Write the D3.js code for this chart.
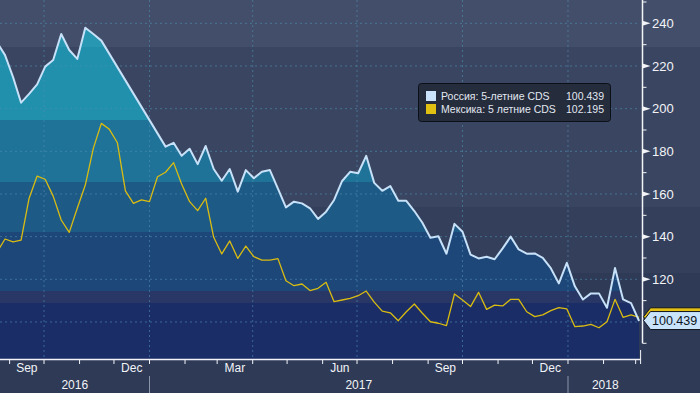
<!DOCTYPE html>
<html>
<head>
<meta charset="utf-8">
<script src="https://cdn.jsdelivr.net/npm/d3@7"></script>
<style>
  html, body { margin: 0; padding: 0; background: #2e3a56; }
  svg { display: block; font-family: "Liberation Sans", Arial, sans-serif; }
</style>
</head>
<body>
<div id="chart"></div>
<script>
// weekly observations, Sunday stamps, Aug 21 2016 .. Mar 4 2018
const weeks = d3.timeWeek.range(new Date(2016, 7, 21), new Date(2018, 2, 5));

// Россия 5y CDS (null = no print, line just joins across)
const russia = [
  231, 225.1, 214.8, 202.8, 206.9, 211.4, 219.7, 222.8, 235.0, 227.5,
  223.3, 237.9, 235.0, 231.9, null, null, null, null, null, null,
  null, 182.2, 184.0, 177.9, 181.2, 174.0, 182.5, 171.7, 166.2, 171.7,
  161.1, 171.2, 167.4, 170.4, 171.2, 162.5, 153.7, 156.4, 155.6, 153.3,
  148.3, 151.7, 157.2, 166.1, 170.4, 169.7, 177.9, 165.2, 161.5, 163.7,
  156.8, 156.8, 152.0, 146.5, 139.5, 140.2, 132.0, 146.0, 142.3, 131.6,
  129.8, 130.6, 129.4, 134.5, 140.0, 134.0, 132.0, 132.1, 130.0, 125.2,
  118.1, 127.7, 116.7, 110.5, 113.4, 113.4, 106.7, 125.3, 110.6, 108.8,
  100.439
];

// Мексика 5y CDS
const mexico = [
  132.8, 138.9, 137.6, 138.4, 158.0, 168.4, 166.9, 159.0, 147.8, 142.0,
  153.3, 164.2, 181.4, 193.1, 190.3, 184.0, 161.5, 155.6, 157.2, 156.4,
  168.1, 170.2, 174.7, 164.7, 156.4, 152.2, 158.0, 139.7, 131.9, 138.0,
  129.8, 135.6, 130.6, 129.0, 129.0, 129.7, 119.3, 117.0, 117.8, 114.7,
  115.8, 118.6, 109.5, 110.3, 111.1, 112.3, 114.5, 109.3, 105.1, 104.3,
  100.6, 104.8, 108.4, 104.1, 100.1, 99.4, 98.3, 113.1, 110.3, 107.2,
  113.9, 105.9, 107.9, 107.5, 110.6, 110.6, 104.8, 102.5, 103.3, 105.3,
  106.7, 106.1, 97.8, 98.1, 98.9, 97.3, 100.1, 110.6, 102.2, 103.3,
  102.195
];

const yTicks = [100, 120, 140, 160, 180, 200, 220, 240];
const yMinor = [90, 110, 130, 150, 170, 190, 210, 230, 250];
const legendNames = ["Россия: 5-летние CDS", "Мексика: 5 летние CDS"];
const lastValues = ["100.439", "102.195"];

const W = 700, H = 393;
const plotRight = 640.6, plotBottom = 359, axisX = 642.5;

const x = d3.scaleTime()
  .domain([new Date(2016, 7, 23, 14, 38), new Date(2018, 2, 5, 7, 40)])
  .range([0, plotRight]);

const y = d3.scaleLinear()
  .domain([90, 250])
  .range([343.3, 2.0]);

const svg = d3.select("#chart").append("svg")
  .attr("width", W).attr("height", H);

// background bands
const bgBands = [
  [0, 47, "#434f6a"],
  [47, 207, "#3a4661"],
  [207, 273, "#343f5c"],
  [273, 393, "#2e3a56"]
];
svg.selectAll("rect.bg").data(bgBands).join("rect")
  .attr("class", "bg")
  .attr("x", 0).attr("width", W)
  .attr("y", d => d[0]).attr("height", d => d[1] - d[0])
  .attr("fill", d => d[2]);

const defs = svg.append("defs");
defs.append("clipPath").attr("id", "plot")
  .append("rect").attr("x", 0).attr("y", 0)
  .attr("width", plotRight).attr("height", plotBottom);

// banded fill for the area
const areaBands = [
  [0, 47, "#2898b2"],
  [47, 120, "#2190ad"],
  [120, 182, "#1f7398"],
  [182, 232, "#1e5a86"],
  [232, 291, "#1d4679"],
  [291, 303, "#283766"],
  [303, 360, "#1b2d66"]
];
const grad = defs.append("linearGradient").attr("id", "areaFill")
  .attr("gradientUnits", "userSpaceOnUse")
  .attr("x1", 0).attr("x2", 0).attr("y1", 0).attr("y2", plotBottom);
areaBands.forEach(b => {
  grad.append("stop").attr("offset", b[0] / plotBottom).attr("stop-color", b[2]);
  grad.append("stop").attr("offset", Math.min(1, b[1] / plotBottom)).attr("stop-color", b[2]);
});

const ruData = weeks.map((d, i) => ({ date: d, v: russia[i] })).filter(d => d.v != null);
const mxData = weeks.map((d, i) => ({ date: d, v: mexico[i] }));

const plot = svg.append("g").attr("clip-path", "url(#plot)");

plot.append("path")
  .datum(ruData)
  .attr("fill", "url(#areaFill)")
  .attr("d", d3.area().x(d => x(d.date)).y0(plotBottom).y1(d => y(d.v)));

// dotted grid
const gridCol = "#4f8fb3";
plot.selectAll("line.hg").data(yTicks).join("line")
  .attr("x1", 0).attr("x2", plotRight)
  .attr("y1", d => y(d)).attr("y2", d => y(d))
  .attr("stroke", gridCol).attr("stroke-opacity", 0.6)
  .attr("stroke-dasharray", "2,3");
const quarters = d3.timeMonth.every(3).range(x.domain()[0], x.domain()[1]);
plot.selectAll("line.vg").data(quarters).join("line")
  .attr("x1", d => x(d)).attr("x2", d => x(d))
  .attr("y1", 0).attr("y2", plotBottom)
  .attr("stroke", gridCol).attr("stroke-opacity", 0.6)
  .attr("stroke-dasharray", "2,3");

plot.append("path")
  .datum(mxData)
  .attr("fill", "none")
  .attr("stroke", "#d9bc12")
  .attr("stroke-width", 1.3)
  .attr("stroke-linejoin", "round")
  .attr("d", d3.line().x(d => x(d.date)).y(d => y(d.v)));

plot.append("path")
  .datum(ruData)
  .attr("fill", "none")
  .attr("stroke", "#c6e1f8")
  .attr("stroke-width", 2)
  .attr("stroke-linejoin", "round")
  .attr("d", d3.line().x(d => x(d.date)).y(d => y(d.v)));

// x axis
svg.append("line")
  .attr("x1", 0).attr("x2", plotRight)
  .attr("y1", plotBottom + 0.5).attr("y2", plotBottom + 0.5)
  .attr("stroke", "#f2f4f8").attr("stroke-width", 1.5);
const months = d3.timeMonth.range(x.domain()[0], x.domain()[1]);
svg.selectAll("line.mt").data(months).join("line")
  .attr("x1", d => x(d)).attr("x2", d => x(d))
  .attr("y1", plotBottom).attr("y2", plotBottom + 5)
  .attr("stroke", "#f2f4f8");
svg.append("line")
  .attr("x1", plotRight).attr("x2", plotRight)
  .attr("y1", plotBottom - 9).attr("y2", plotBottom + 5)
  .attr("stroke", "#f2f4f8");

// Sep / Dec / Mar / Jun, only for whole months on the axis
const labelled = months.filter(d => d.getMonth() % 3 === 2 && d3.timeMonth.offset(d, 1) <= x.domain()[1]);
svg.selectAll("text.ml").data(labelled).join("text")
  .attr("x", d => (x(d) + x(d3.timeMonth.offset(d, 1))) / 2)
  .attr("y", 372)
  .attr("text-anchor", "middle")
  .attr("fill", "#f2f4f8")
  .attr("font-size", 12)
  .text(d3.timeFormat("%b"));

const yearStarts = d3.timeYear.range(x.domain()[0], x.domain()[1]);
svg.selectAll("line.ys").data(yearStarts).join("line")
  .attr("x1", d => x(d)).attr("x2", d => x(d))
  .attr("y1", 376).attr("y2", H)
  .attr("stroke", "#8b94a8");
const yearSpans = [x.domain()[0]].concat(yearStarts).map((d, i, a) => {
  const s = Math.max(0, x(d));
  const e = i + 1 < a.length ? x(a[i + 1]) : axisX;
  return { mid: (s + e) / 2, year: (i === 0 ? yearStarts[0].getFullYear() - 1 : d.getFullYear()) };
});
svg.selectAll("text.yl").data(yearSpans).join("text")
  .attr("x", d => d.mid)
  .attr("y", 389)
  .attr("text-anchor", "middle")
  .attr("fill", "#f2f4f8")
  .attr("font-size", 12)
  .text(d => d.year);

// right axis
svg.append("line")
  .attr("x1", axisX).attr("x2", axisX)
  .attr("y1", 0).attr("y2", y(90))
  .attr("stroke", "#f2f4f8").attr("stroke-width", 1.5);
svg.selectAll("line.mn").data(yMinor).join("line")
  .attr("x1", axisX).attr("x2", axisX + 4)
  .attr("y1", d => y(d)).attr("y2", d => y(d))
  .attr("stroke", "#f2f4f8");
svg.selectAll("path.tri").data(yTicks.filter(d => d !== 100)).join("path")
  .attr("d", d => `M${axisX},${y(d) - 2.5}L${axisX + 8},${y(d)}L${axisX},${y(d) + 2.5}Z`)
  .attr("fill", "#f2f4f8");
svg.selectAll("text.yt").data(yTicks.filter(d => d !== 100)).join("text")
  .attr("x", 652)
  .attr("y", d => y(d) + 4.6)
  .attr("fill", "#f2f4f8")
  .attr("font-size", 13)
  .text(d => d);

// last value tags
function tag(cy) {
  return `M${axisX + 1},${cy}L${axisX + 8},${cy - 9}L${W + 2},${cy - 9}L${W + 2},${cy + 9}L${axisX + 8},${cy + 9}Z`;
}
svg.append("path").attr("d", tag(y(mexico[mexico.length - 1]) - 0.5))
  .attr("fill", "#e3c017").attr("stroke", "#10151f");
svg.append("path").attr("d", tag(y(russia[russia.length - 1]) - 0.5))
  .attr("fill", "#c9e3fb").attr("stroke", "#10151f");
svg.append("text")
  .attr("x", 652).attr("y", y(russia[russia.length - 1]) + 4)
  .attr("fill", "#0e1420").attr("font-size", 12.5)
  .text(lastValues[0]);

// legend
const lg = svg.append("g");
lg.append("rect")
  .attr("x", 418.5).attr("y", 83.5).attr("width", 192).attr("height", 38)
  .attr("rx", 3)
  .attr("fill", "#252c3c").attr("stroke", "#0b0f17");
const swatch = ["#c9e3fb", "#e0c010"];
legendNames.forEach((name, i) => {
  const cy = 96 + i * 13;
  lg.append("rect").attr("x", 426).attr("y", cy - 5).attr("width", 10).attr("height", 10)
    .attr("fill", swatch[i]);
  lg.append("text").attr("x", 441).attr("y", cy + 4)
    .attr("fill", "#e2e8f1").attr("font-size", 10.5).text(name);
  lg.append("text").attr("x", 604).attr("y", cy + 4).attr("text-anchor", "end")
    .attr("fill", "#e2e8f1").attr("font-size", 10.5).text(lastValues[i]);
});
</script>
</body>
</html>
